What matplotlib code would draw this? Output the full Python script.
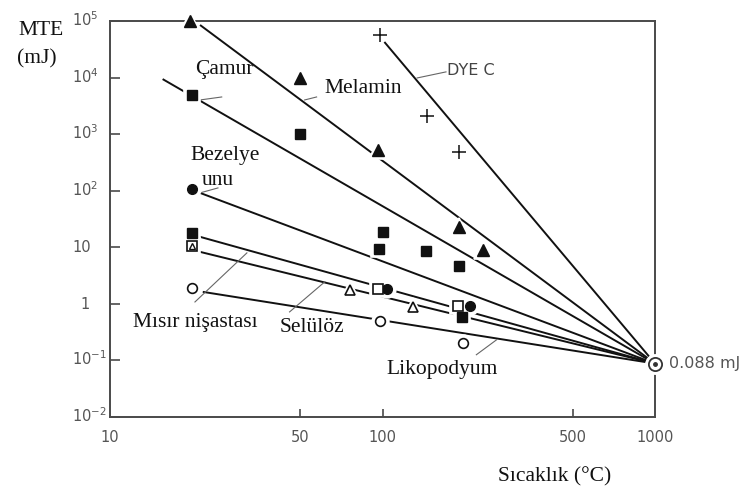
import matplotlib
matplotlib.use("Agg")
import matplotlib.pyplot as plt
from matplotlib.transforms import offset_copy

# Axis ticks
x_ticks = [10, 50, 100, 500, 1000]
x_tick_labels = ["10", "50", "100", "500", "1000"]
y_ticks = [1e-2, 1e-1, 1, 10, 1e2, 1e3, 1e4, 1e5]
y_tick_labels = [r"$10^{-2}$", r"$10^{-1}$", "1", "10",
                 r"$10^{2}$", r"$10^{3}$", r"$10^{4}$", r"$10^{5}$"]

# All fitted lines meet at this point
T_conv = 1000
E_conv = 0.088

# Fitted lines: starting temperature (°C) and energy (mJ)
line_names = ["DYE C", "Melamin", "Çamur", "Bezelye unu",
              "Mısır nişastası", "Selülöz", "Likopodyum"]
line_T0 = [101.6, 21.4, 15.6, 21.4, 20.8, 21.4, 21.9]
line_E0 = [42600, 85000, 9400, 91.5, 15.9, 8.3, 1.63]

# Measured points
dye_T = [97.5, 146, 191]
dye_E = [56600, 2090, 485]
melamin_T = [19.6, 50, 96, 191, 233]
melamin_E = [1e5, 1e4, 520, 23, 9]
camur_T = [20, 50, 100, 97, 145, 191]
camur_E = [5000, 1000, 18.7, 9.4, 8.6, 4.7]
bezelye_T = [20, 104, 210]
bezelye_E = [107, 1.84, 0.9]
misir_T = [20, 195]
misir_E = [18, 0.59]
misir_open_T = [20, 96, 190]
misir_open_E = [10.7, 1.84, 0.9]
seluloz_T = [20, 76, 129]
seluloz_E = [10.7, 1.77, 0.89]
liko_T = [20, 98, 197]
liko_E = [1.92, 0.5, 0.2]

SERIF = "Liberation Serif"
SANS = "DejaVu Sans"
TICK_COLOR = "#555555"

fig = plt.figure(figsize=(7.52, 4.96), dpi=100)
ax = fig.add_axes([110 / 752, 79 / 496, 545 / 752, 396 / 496])
ax.set_xscale("log")
ax.set_yscale("log")
ax.set_xlim(10, 1000)
ax.set_ylim(1e-2, 1e5)

for s in ax.spines.values():
    s.set_color("#4a4a4a")
    s.set_linewidth(1.4)
    s.set_zorder(1.5)

ax.set_xticks(x_ticks)
ax.set_xticklabels(x_tick_labels, fontsize=10.5, color=TICK_COLOR,
                   family=SANS)
ax.minorticks_off()
ax.tick_params(axis="x", direction="in", length=6, width=1.2,
               color="#4a4a4a", pad=9)
ax.set_yticks(y_ticks)
ax.set_yticklabels([""] * len(y_ticks))
ax.tick_params(axis="y", direction="in", length=7, width=1.2,
               color="#4a4a4a")
# corner ticks hidden
for t in (ax.xaxis.get_major_ticks()[0], ax.xaxis.get_major_ticks()[-1]):
    t.tick1line.set_visible(False)

ylab_trans = offset_copy(ax.get_yaxis_transform(), fig=fig, x=0, y=-5,
                         units="dots")
for v, lab in zip(y_ticks, y_tick_labels):
    if lab == "1":
        ax.text(-0.038, v, lab, transform=ylab_trans, ha="right",
                va="baseline", fontsize=10.5, color=TICK_COLOR, family=SANS)
    else:
        ax.text(-0.069, v, lab, transform=ylab_trans, ha="left",
                va="baseline", fontsize=10.5, color=TICK_COLOR, family=SANS)

# Fitted lines
for t0, e0 in zip(line_T0, line_E0):
    ax.plot([t0, T_conv], [e0, E_conv], color="#111111", lw=1.4,
            solid_capstyle="butt", zorder=2)


def marks(T, E, marker, ms, filled=True, mew=1.2):
    # white halo to break the lines around each mark
    ax.plot(T, E, ls="none", marker=marker, ms=ms + 5, color="white",
            mec="white", mew=mew, zorder=3, clip_on=False)
    if filled:
        ax.plot(T, E, ls="none", marker=marker, ms=ms, color="#111111",
                mec="#111111", zorder=4, clip_on=False)
    else:
        ax.plot(T, E, ls="none", marker=marker, ms=ms, mfc="white",
                mec="#111111", mew=mew, zorder=4, clip_on=False)


marks(dye_T, dye_E, "+", 10, filled=False, mew=1.1)
marks(melamin_T, melamin_E, "^", 8)
marks(camur_T, camur_E, "s", 6.5)
marks(bezelye_T, bezelye_E, "o", 7)
marks(misir_T, misir_E, "s", 6.5)
marks(misir_open_T, misir_open_E, "s", 7, filled=False)
marks(seluloz_T[1:], seluloz_E[1:], "^", 7.5, filled=False)
ax.plot(seluloz_T[:1], seluloz_E[:1], ls="none", marker="^", ms=4.5,
        mfc="white", mec="#111111", mew=1.0, zorder=5)
marks(liko_T, liko_E, "o", 7, filled=False)

# Convergence point
ax.plot([T_conv], [E_conv], ls="none", marker="o", ms=14, color="white",
        zorder=3, clip_on=False)
ax.plot([T_conv], [E_conv], ls="none", marker="o", ms=9.5, mfc="white",
        mec="#333333", mew=1.3, zorder=4, clip_on=False)
ax.plot([T_conv], [E_conv], ls="none", marker="o", ms=2.5, color="#333333",
        zorder=5, clip_on=False)
ax.text(1125, 0.074, "0.088 mJ", fontsize=11.5, color="#555555",
        family=SANS, ha="left", va="baseline")

# Series labels
lbl = dict(fontsize=15.5, family=SERIF, color="#111111", ha="left",
           va="baseline")
ax.text(20.5, 11600, "Çamur", **lbl)
ax.text(61.4, 5350, "Melamin", **lbl)
ax.text(19.8, 350, "Bezelye", **lbl)
ax.text(21.7, 126, "unu", **lbl)
ax.text(12.1, 0.393, "Mısır nişastası", **lbl)
ax.text(42.0, 0.32, "Selülöz", **lbl)
ax.text(103.5, 0.058, "Likopodyum", **lbl)
ax.text(173, 11100, "DYE C", fontsize=11.5, family=SANS, color="#444444",
        ha="left", va="baseline")

# Leader lines
leaders = [
    ((21.4, 4020), (25.7, 4540)),
    ((51.8, 4020), (57.3, 4540)),
    ((134, 9840), (171, 12600)),
    ((21.4, 91.5), (24.9, 112)),
    ((20.5, 1.08), (31.8, 7.96)),
    ((45.6, 0.72), (61.4, 2.45)),
    ((221, 0.126), (262, 0.231)),
]
for (x0, y0), (x1, y1) in leaders:
    ax.plot([x0, x1], [y0, y1], color="#666666", lw=0.8, zorder=2.5)

# Axis titles
fig.text(18 / 752, 1 - 35 / 496, "MTE", fontsize=15.5, family=SERIF,
         color="#111111", ha="left", va="baseline")
fig.text(17 / 752, 1 - 63 / 496, "(mJ)", fontsize=15.5, family=SERIF,
         color="#111111", ha="left", va="baseline")
fig.text(498 / 752, 1 - 481 / 496, "Sıcaklık (°C)", fontsize=15.5,
         family=SERIF, color="#111111", ha="left", va="baseline")

fig.savefig("out.png", dpi=100, facecolor="white")
